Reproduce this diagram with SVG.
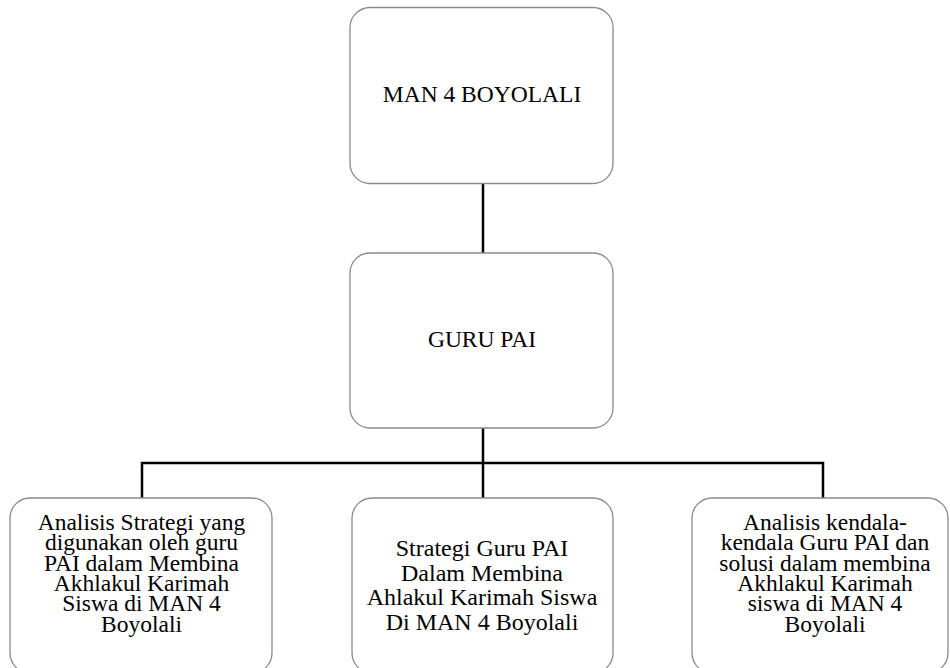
<svg xmlns="http://www.w3.org/2000/svg" width="950" height="668" viewBox="0 0 950 668">
<style>
.box{fill:#fff;stroke:#8a8a8a;stroke-width:1.3}
.t{font-family:"Liberation Serif","Times New Roman",serif;fill:#000;text-anchor:middle}
.c{fill:none;stroke:#000;stroke-width:2.5}
</style>
<rect width="950" height="668" fill="#fff"/>
<g id="connectors">
<line class="c" x1="483" y1="183" x2="483" y2="253"/>
<line class="c" x1="483" y1="428" x2="483" y2="463"/>
<polyline class="c" points="142,498 142,463 823,463 823,498"/>
<line class="c" x1="483" y1="463" x2="483" y2="498"/>
</g>
<g id="node-man">
<rect class="box" x="350" y="7.5" width="263" height="176" rx="20"/>
<text class="t" x="482" y="102" font-size="23.5">MAN 4 BOYOLALI</text>
</g>
<g id="node-guru">
<rect class="box" x="350" y="253" width="263" height="175" rx="20"/>
<text class="t" x="482" y="347" font-size="23.5">GURU PAI</text>
</g>
<g id="node-analisis" class="t" font-size="23.5">
<rect class="box" x="10" y="498" width="262" height="175" rx="20"/>
<text class="t" x="141.5" y="530">Analisis Strategi yang</text>
<text class="t" x="141.5" y="550.3">digunakan oleh guru</text>
<text class="t" x="141.5" y="570.6">PAI dalam Membina</text>
<text class="t" x="141.5" y="590.9">Akhlakul Karimah</text>
<text class="t" x="141.5" y="611.2">Siswa di MAN 4</text>
<text class="t" x="141.5" y="631.5">Boyolali</text>
</g>
<g id="node-strategi" class="t" font-size="24">
<rect class="box" x="352" y="498" width="261" height="175" rx="20"/>
<text class="t" x="482" y="556">Strategi Guru PAI</text>
<text class="t" x="482" y="580.5">Dalam Membina</text>
<text class="t" x="482" y="605">Ahlakul Karimah Siswa</text>
<text class="t" x="482" y="629.5">Di MAN 4 Boyolali</text>
</g>
<g id="node-kendala" class="t" font-size="23.5">
<rect class="box" x="692" y="498" width="256" height="175" rx="20"/>
<text class="t" x="825" y="530">Analisis kendala-</text>
<text class="t" x="825" y="550.3">kendala Guru PAI dan</text>
<text class="t" x="825" y="570.6">solusi dalam membina</text>
<text class="t" x="825" y="590.9">Akhlakul Karimah</text>
<text class="t" x="825" y="611.2">siswa di MAN 4</text>
<text class="t" x="825" y="631.5">Boyolali</text>
</g>
</svg>
